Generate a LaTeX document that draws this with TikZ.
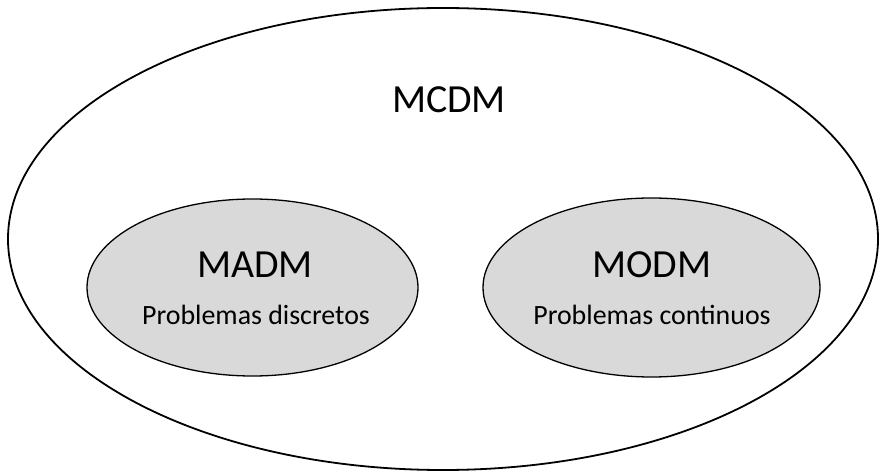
\documentclass[tikz,border=0pt]{standalone}
\usepackage{fontspec}
\setmainfont{Carlito}
\usetikzlibrary{shapes.geometric}
\begin{document}
\begin{tikzpicture}[x=1bp,y=-1bp,
  outerell/.style={ellipse, draw=black, line width=1.8bp, inner sep=0pt},
  innerell/.style={ellipse, draw=black, line width=1.3bp, fill=gray!30, inner sep=0pt},
  bigtxt/.style={font=\fontsize{40}{44}\selectfont, inner sep=0pt},
  smalltxt/.style={font=\fontsize{28}{31}\selectfont, inner sep=0pt}]
\useasboundingbox (0,0) rectangle (881,473);
\node[outerell, minimum width=870bp, minimum height=462bp] (mcdm) at (443,239) {};
\node[innerell, minimum width=331bp, minimum height=177bp] (madm) at (252.5,287.5) {};
\node[innerell, minimum width=337bp, minimum height=179bp] (modm) at (651.5,287.5) {};
\node[bigtxt] (tmcdm) at (449,100) {MCDM};
\node[bigtxt] (tmadm) at (255,265) {MADM};
\node[smalltxt] (smadm) at (256,315) {Problemas discretos};
\node[bigtxt] (tmodm) at (652,265) {MODM};
\node[smalltxt] (smodm) at (652,315) {Problemas continuos};
\end{tikzpicture}
\end{document}
